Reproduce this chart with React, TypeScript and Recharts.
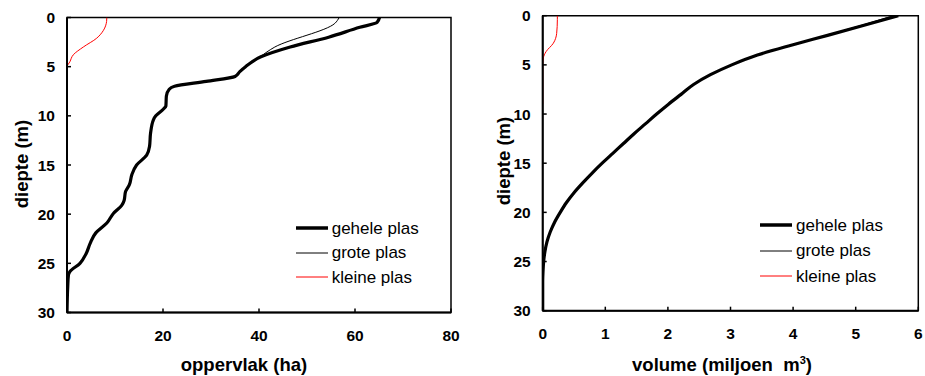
import React from 'react';
import { LineChart, Line, XAxis, YAxis, ReferenceArea, Legend, Label } from 'recharts';

const FONT = '"Liberation Sans", Arial, Helvetica, sans-serif';

// Tick labels
const depthTicks = [0, 5, 10, 15, 20, 25, 30];
const areaTicks = [0, 20, 40, 60, 80];
const volumeTicks = [0, 1, 2, 3, 4, 5, 6];

// Series names
const seriesNames = ['gehele plas', 'grote plas', 'kleine plas'];

// Oppervlak (ha) vs diepte (m)
const areaGeheleDepth = [0, 0.5, 1, 2, 3, 4, 5, 5.5, 6, 6.5, 7, 7.3, 8, 9, 9.3, 10, 10.4, 11.8, 13.1, 14, 15, 16, 17, 17.7, 18.6, 19.1, 19.9, 20.9, 21.9, 23, 24, 25, 25.85, 26.2, 27.4, 30];
const areaGeheleValue = [65.1, 64.6, 61, 54.5, 46.5, 40.4, 37.2, 36, 35, 29, 22.4, 21.3, 20.7, 20.6, 20.1, 18.5, 18, 17.4, 17.2, 16.6, 14.5, 13.5, 13, 12.2, 11.9, 11.4, 9.7, 8.3, 6.0, 4.8, 4.0, 2.7, 0.6, 0.3, 0.15, 0];

const areaGroteDepth = [0, 0.6, 3, 4, 5, 5.5, 6, 6.5, 7, 7.3, 8, 9, 9.3, 10, 10.4, 11.8, 13.1, 14, 15, 16, 17, 17.7, 18.6, 19.1, 19.9, 20.9, 21.9, 23, 24, 25, 25.85, 26.2, 27.4, 30];
const areaGroteValue = [56.7, 55.8, 43.3, 40.2, 37.2, 36, 35, 29, 22.4, 21.3, 20.7, 20.6, 20.1, 18.5, 18, 17.4, 17.2, 16.6, 14.5, 13.5, 13, 12.2, 11.9, 11.4, 9.7, 8.3, 6.0, 4.8, 4.0, 2.7, 0.6, 0.3, 0.15, 0];

const areaKleineDepth = [0, 0.4, 1.3, 2.1, 3, 3.8, 4.5, 5, 9];
const areaKleineValue = [8.3, 8.25, 7.6, 6.2, 3.4, 1.3, 0.6, 0.05, 0];

// Volume (miljoen m3) vs diepte (m)
const volGeheleDepth = [0, 1, 2, 3, 4, 5, 6, 7, 8, 9, 10, 11, 12, 13, 14, 15, 16, 17, 18, 19, 20, 21, 22, 23, 24, 25, 26, 27, 30];
const volGeheleValue = [5.68, 5.12, 4.55, 3.97, 3.43, 3.02, 2.68, 2.41, 2.21, 2.01, 1.82, 1.64, 1.46, 1.29, 1.12, 0.95, 0.79, 0.64, 0.5, 0.38, 0.28, 0.19, 0.12, 0.068, 0.035, 0.015, 0.005, 0, 0];

const volGroteDepth = [0, 1, 2, 3, 4, 5, 6, 7, 8, 9, 10, 11, 12, 13, 14, 15, 16, 17, 18, 19, 20, 21, 22, 23, 24, 25, 26, 27, 30];
const volGroteValue = [5.6, 5.08, 4.53, 3.96, 3.43, 3.02, 2.68, 2.41, 2.21, 2.01, 1.82, 1.64, 1.46, 1.29, 1.12, 0.95, 0.79, 0.64, 0.5, 0.38, 0.28, 0.19, 0.12, 0.068, 0.035, 0.015, 0.005, 0, 0];

const volKleineDepth = [0, 0.4, 1.8, 2.8, 3.66, 4.3, 5, 9];
const volKleineValue = [0.234, 0.234, 0.223, 0.17, 0.053, 0.01, 0, 0];

const toPoints = (depths: number[], values: number[]) => depths.map((d, i) => ({ d, v: values[i] }));

const STYLES = [
  { stroke: '#000000', width: 3.2, legendWidth: 3.5 },
  { stroke: '#000000', width: 1, legendWidth: 1 },
  { stroke: '#ff0000', width: 1, legendWidth: 1 },
];

const makeLegend = (rowH: number) => () => (
  <div style={{ fontFamily: FONT, fontSize: 17, color: '#000' }}>
    {seriesNames.map((name, i) => (
      <div key={name} style={{ display: 'flex', alignItems: 'center', height: rowH }}>
        <svg width={32} height={8} style={{ display: 'block' }}>
          <line x1={0} x2={32} y1={4} y2={4} stroke={STYLES[i].stroke} strokeWidth={STYLES[i].legendWidth} />
        </svg>
        <span style={{ marginLeft: 4, lineHeight: 1, whiteSpace: 'nowrap' }}>{name}</span>
      </div>
    ))}
  </div>
);

type Props = {
  width: number;
  margin: { top: number; right: number; bottom: number; left: number };
  yAxisWidth: number;
  xAxisHeight: number;
  xDomain: [number, number];
  xTicks: number[];
  series: { d: number; v: number }[][];
  legendLeft: number;
  legendTop: number;
  legendRowH: number;
  xTitle: React.ReactNode;
  xTitleX: number;
  yTitleX: number;
  yTitleY: number;
};

function DepthChart(p: Props) {
  const tickStyle = { fill: '#000', fontSize: 15.5, fontWeight: 'bold', fontFamily: FONT };
  return (
    <LineChart width={p.width} height={376} layout="vertical" margin={p.margin} style={{ fontFamily: FONT }}>
      <ReferenceArea x1={p.xDomain[0]} x2={p.xDomain[1]} y1={0} y2={30} fill="none" stroke="#000" strokeWidth={1.5} ifOverflow="visible" />
      <XAxis
        type="number"
        domain={p.xDomain}
        ticks={p.xTicks}
        interval={0}
        height={p.xAxisHeight}
        tickSize={-4}
        tickMargin={21.5}
        axisLine={{ stroke: '#000', strokeWidth: 2 }}
        tickLine={{ stroke: '#000', strokeWidth: 1.5 }}
        tick={tickStyle}
        allowDataOverflow
      >
        <Label
          content={() => (
            <text x={p.xTitleX} y={371} textAnchor="middle" fontFamily={FONT} fontSize={18.5} fontWeight="bold" fill="#000" style={{ whiteSpace: 'pre' }}>
              {p.xTitle}
            </text>
          )}
        />
      </XAxis>
      <YAxis
        type="number"
        dataKey="d"
        domain={[0, 30]}
        ticks={depthTicks}
        interval={0}
        width={p.yAxisWidth}
        tickSize={-4}
        tickMargin={16}
        axisLine={{ stroke: '#000', strokeWidth: 2 }}
        tickLine={{ stroke: '#000', strokeWidth: 1.5 }}
        tick={tickStyle}
        allowDataOverflow
      >
        <Label
          content={() => (
            <text
              x={p.yTitleX}
              y={p.yTitleY}
              transform={`rotate(-90 ${p.yTitleX} ${p.yTitleY})`}
              textAnchor="middle"
              fontFamily={FONT}
              fontSize={18.5}
              fontWeight="bold"
              fill="#000"
            >
              diepte (m)
            </text>
          )}
        />
      </YAxis>
      {[1, 0, 2].map((i) => (
        <Line
          key={seriesNames[i]}
          name={seriesNames[i]}
          data={p.series[i]}
          dataKey="v"
          type="monotone"
          stroke={STYLES[i].stroke}
          strokeWidth={STYLES[i].width}
          dot={false}
          activeDot={false}
          isAnimationActive={false}
        />
      ))}
      <Legend
        layout="vertical"
        align="center"
        verticalAlign="middle"
        content={makeLegend(p.legendRowH)}
        wrapperStyle={{ left: p.legendLeft, top: p.legendTop, width: 'auto', right: 'auto', bottom: 'auto' }}
      />
    </LineChart>
  );
}

export default function App() {
  const areaSeries = [
    toPoints(areaGeheleDepth, areaGeheleValue),
    toPoints(areaGroteDepth, areaGroteValue),
    toPoints(areaKleineDepth, areaKleineValue),
  ];
  const volSeries = [
    toPoints(volGeheleDepth, volGeheleValue),
    toPoints(volGroteDepth, volGroteValue),
    toPoints(volKleineDepth, volKleineValue),
  ];
  return (
    <div style={{ position: 'absolute', left: 0, top: 0, width: 925, height: 376, background: '#fff', overflow: 'hidden' }}>
      <div style={{ position: 'absolute', left: 0, top: 0 }}>
        <DepthChart
          width={470}
          margin={{ top: 17.5, right: 19, bottom: 0, left: 0 }}
          yAxisWidth={67}
          xAxisHeight={63.5}
          xDomain={[0, 80]}
          xTicks={areaTicks}
          series={areaSeries}
          legendLeft={295.7}
          legendTop={215.8}
          legendRowH={24.5}
          xTitle="oppervlak (ha)"
          xTitleX={244}
          yTitleX={28}
          yTitleY={164}
        />
      </div>
      <div style={{ position: 'absolute', left: 470, top: 0 }}>
        <DepthChart
          width={455}
          margin={{ top: 15.7, right: 6.7, bottom: 0, left: 0 }}
          yAxisWidth={72.7}
          xAxisHeight={65.3}
          xDomain={[0, 6]}
          xTicks={volumeTicks}
          series={volSeries}
          legendLeft={290}
          legendTop={212.8}
          legendRowH={25.3}
          xTitle={
            <>
              <tspan>{'volume (miljoen  m'}</tspan>
              <tspan dy={-7} fontSize={11}>3</tspan>
              <tspan dy={7}>)</tspan>
            </>
          }
          xTitleX={252}
          yTitleX={40}
          yTitleY={161}
        />
      </div>
    </div>
  );
}
